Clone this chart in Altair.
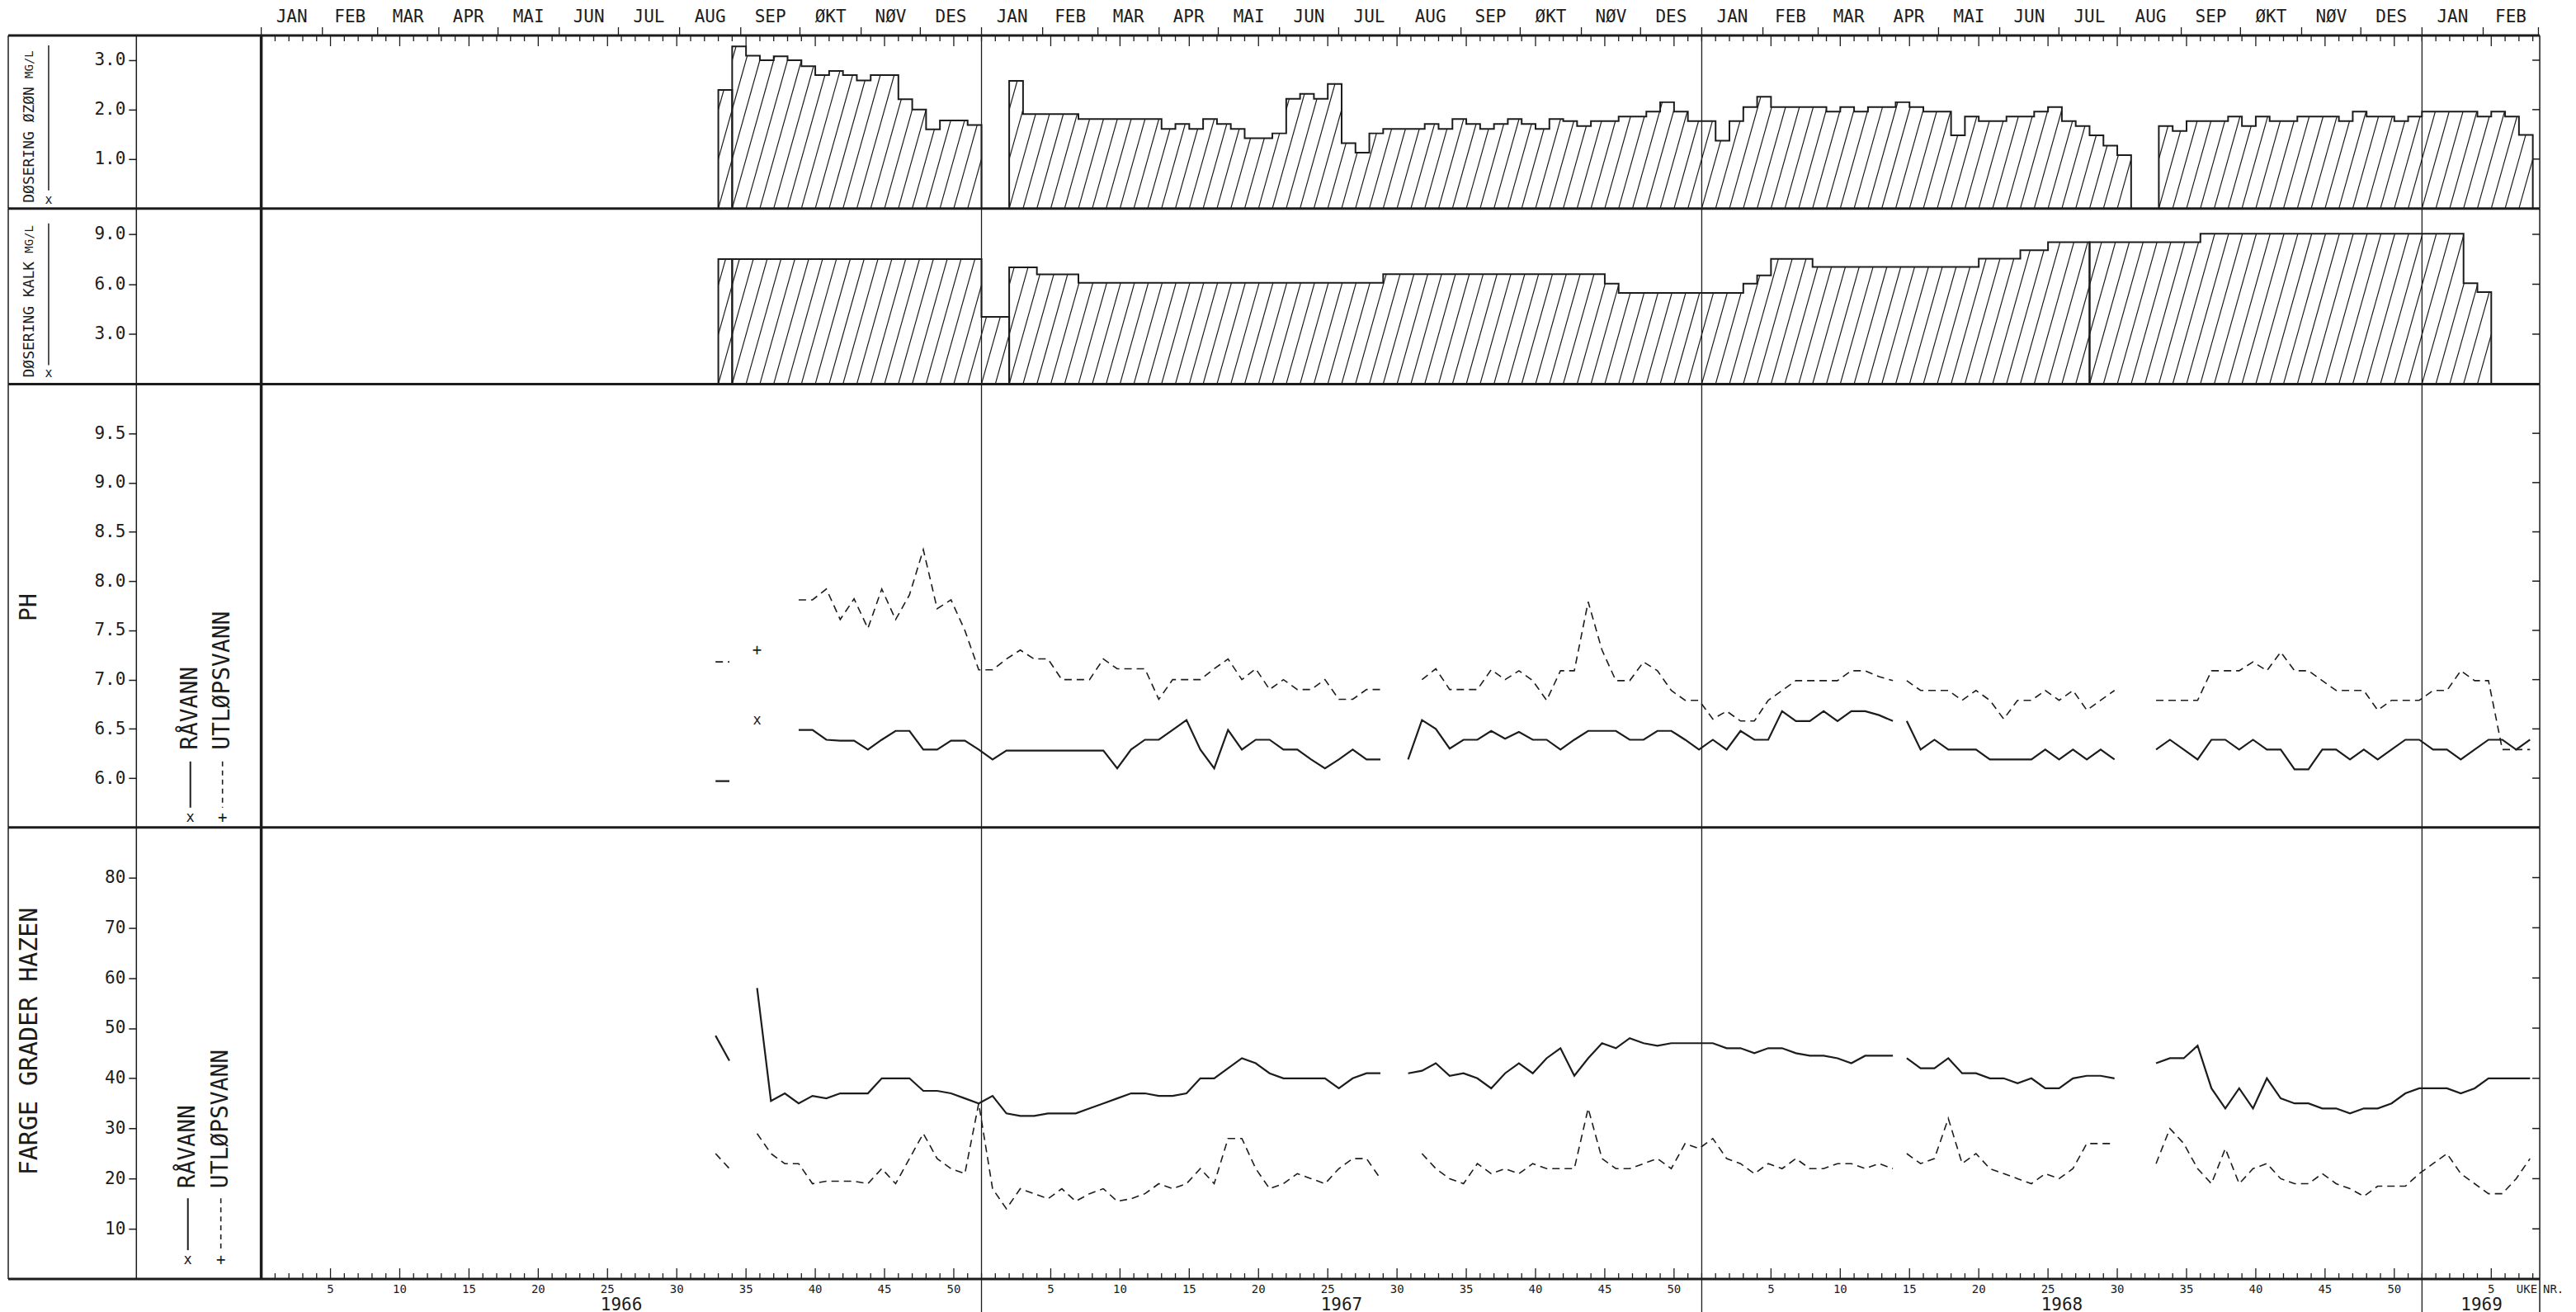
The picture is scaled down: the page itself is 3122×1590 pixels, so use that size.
import altair as alt
import pandas as pd

INK = "#1c1c1c"
MONO = "DejaVu Sans Mono"

# ---------------------------------------------------------------- labels
MONTHS = ["JAN", "FEB", "MAR", "APR", "MAI", "JUN", "JUL", "AUG", "SEP", "ØKT", "NØV", "DES"]
MONTH_START_DAY = [0, 31, 59, 90, 120, 151, 181, 212, 243, 273, 304, 334, 365]
YEARS = ["1966", "1967", "1968", "1969"]
YEAR_LABEL_POS = [26.0, 78.0, 130.0, 160.3]
WEEKS_PER_YEAR = 52
X_MAX = 164.5

OZON_TICKS = [1.0, 2.0, 3.0]
KALK_TICKS = [3.0, 6.0, 9.0]
PH_TICKS = [6.0, 6.5, 7.0, 7.5, 8.0, 8.5, 9.0, 9.5]
FARGE_TICKS = [10, 20, 30, 40, 50, 60, 70, 80]

# ---------------------------------------------------------------- ozone dose mg/l (weekly)
OZON_1966 = [None] * 33 + [2.40, 3.28, 3.09, 3.00, 3.08, 3.00, 2.88, 2.70, 2.78, 2.70,
                           2.59, 2.70, 2.70, 2.21, 2.00, 1.60, 1.78, 1.78, 1.69]
OZON_1967 = [None, None, 2.58, 1.91, 1.91, 1.91, 1.91, 1.81, 1.81, 1.81, 1.81, 1.81, 1.81,
             1.61, 1.71, 1.61, 1.81, 1.71, 1.61, 1.42, 1.42, 1.52, 2.22, 2.32, 2.22, 2.52,
             1.32, 1.13, 1.52, 1.61, 1.61, 1.61, 1.71, 1.61, 1.81, 1.71, 1.61, 1.71, 1.81,
             1.71, 1.61, 1.81, 1.77, 1.67, 1.77, 1.77, 1.86, 1.86, 1.96, 2.15, 1.96, 1.77]
OZON_1968 = [1.77, 1.37, 1.77, 2.05, 2.26, 2.05, 2.05, 2.05, 2.05, 1.96, 2.05, 1.96, 2.05,
             2.05, 2.15, 2.05, 1.96, 1.96, 1.48, 1.86, 1.77, 1.77, 1.86, 1.86, 1.96, 2.05,
             1.77, 1.67, 1.48, 1.27, 1.08, None, None, 1.67, 1.57, 1.77, 1.77, 1.77, 1.86,
             1.67, 1.86, 1.77, 1.77, 1.86, 1.86, 1.86, 1.77, 1.96, 1.86, 1.86, 1.77, 1.86]
OZON_1969 = [1.96, 1.96, 1.96, 1.96, 1.86, 1.96, 1.86, 1.49]
OZON_BREAKS = [35]

# ---------------------------------------------------------------- lime dose mg/l (weekly)
KALK_1966 = [None] * 33 + [7.51, 7.51, 7.51, 7.51, 7.51, 7.51, 7.51, 7.51, 7.51, 7.51,
                           7.51, 7.51, 7.51, 7.51, 7.51, 7.51, 7.51, 7.51, 7.51]
KALK_1967 = [4.04, 4.04, 7.01, 7.01, 6.59, 6.59, 6.59, 6.09, 6.09, 6.09, 6.09, 6.09, 6.09,
             6.09, 6.09, 6.09, 6.09, 6.09, 6.09, 6.09, 6.09, 6.09, 6.09, 6.09, 6.09, 6.09,
             6.09, 6.09, 6.09, 6.60, 6.60, 6.60, 6.60, 6.60, 6.60, 6.60, 6.60, 6.60, 6.60,
             6.60, 6.60, 6.60, 6.60, 6.60, 6.60, 6.03, 5.48, 5.48, 5.48, 5.48, 5.48, 5.48]
KALK_1968 = [5.48, 5.48, 5.48, 6.03, 6.53, 7.52, 7.52, 7.52, 7.04, 7.04, 7.04, 7.04, 7.04,
             7.04, 7.04, 7.04, 7.04, 7.04, 7.04, 7.04, 7.54, 7.54, 7.54, 8.04, 8.04, 8.53,
             8.53, 8.53, 8.53, 8.53, 8.53, 8.53, 8.53, 8.53, 8.53, 8.53, 9.03, 9.03, 9.03,
             9.03, 9.03, 9.03, 9.03, 9.03, 9.03, 9.03, 9.03, 9.03, 9.03, 9.03, 9.03, 9.03]
KALK_1969 = [9.03, 9.03, 9.03, 6.06, 5.53]
KALK_BREAKS = [35, 55, 133]

# ---------------------------------------------------------------- pH (weekly)
PH_RAA_1966 = [None] * 32 + [5.97, 5.97, None, 6.59, None, None, 6.49, 6.49, 6.39, 6.38,
                             6.38, 6.29, 6.39, 6.48, 6.48, 6.29, 6.29, 6.38, 6.38, 6.29]
PH_RAA_1967 = [6.19, 6.28, 6.28, 6.28, 6.28, 6.28, 6.28, 6.28, 6.28, 6.10, 6.29, 6.39, 6.39,
               6.49, 6.59, 6.29, 6.10, 6.49, 6.29, 6.39, 6.39, 6.29, 6.29, 6.19, 6.10, 6.19,
               6.29, 6.19, 6.19, None, 6.19, 6.59, 6.50, 6.30, 6.39, 6.39, 6.48, 6.40, 6.47,
               6.39, 6.39, 6.29, 6.39, 6.48, 6.48, 6.48, 6.39, 6.39, 6.48, 6.48, 6.39, 6.29]
PH_RAA_1968 = [6.39, 6.29, 6.48, 6.39, 6.39, 6.68, 6.58, 6.58, 6.68, 6.58, 6.68, 6.68, 6.64,
               6.58, 6.58, 6.29, 6.39, 6.29, 6.29, 6.29, 6.19, 6.19, 6.19, 6.19, 6.29, 6.19,
               6.29, 6.19, 6.29, 6.19, None, None, 6.29, 6.39, 6.29, 6.19, 6.39, 6.39, 6.29,
               6.39, 6.29, 6.29, 6.09, 6.09, 6.29, 6.29, 6.19, 6.29, 6.19, 6.29, 6.39, 6.39]
PH_RAA_1969 = [6.29, 6.29, 6.19, 6.29, 6.39, 6.39, 6.29, 6.39]

PH_UTL_1966 = [None] * 32 + [7.18, 7.18, None, 7.30, None, None, 7.81, 7.81, 7.92, 7.61,
                             7.82, 7.52, 7.92, 7.61, 7.86, 8.32, 7.72, 7.81, 7.50, 7.10]
PH_UTL_1967 = [7.10, 7.21, 7.30, 7.21, 7.21, 7.00, 7.00, 7.00, 7.21, 7.11, 7.11, 7.11, 6.80,
               7.00, 7.00, 7.00, 7.11, 7.21, 7.00, 7.11, 6.90, 7.00, 6.90, 6.90, 7.00, 6.80,
               6.80, 6.90, 6.90, None, None, 7.00, 7.11, 6.90, 6.90, 6.90, 7.10, 7.00, 7.09,
               6.99, 6.79, 7.09, 7.09, 7.79, 7.30, 6.99, 6.99, 7.18, 7.09, 6.89, 6.79, 6.79]
PH_UTL_1968 = [6.60, 6.68, 6.58, 6.58, 6.79, 6.89, 6.99, 6.99, 6.99, 6.99, 7.09, 7.09, 7.03,
               6.99, 6.99, 6.89, 6.89, 6.89, 6.79, 6.89, 6.79, 6.60, 6.79, 6.79, 6.89, 6.79,
               6.89, 6.69, 6.79, 6.89, None, None, 6.79, 6.79, 6.79, 6.79, 7.09, 7.09, 7.09,
               7.18, 7.09, 7.28, 7.09, 7.09, 6.99, 6.89, 6.89, 6.89, 6.69, 6.79, 6.79, 6.79]
PH_UTL_1969 = [6.89, 6.89, 7.09, 6.99, 6.99, 6.29, 6.29, 6.29]

# ---------------------------------------------------------------- colour, degrees Hazen (weekly)
FARGE_RAA_1966 = [None] * 32 + [48.5, 43.5, None, 58, 35.5, 37, 35, 36.5, 36, 37,
                                37, 37, 40, 40, 40, 37.5, 37.5, 37, 36, 35]
FARGE_RAA_1967 = [36.5, 33, 32.5, 32.5, 33, 33, 33, 34, 35, 36, 37, 37, 36.5, 36.5, 37, 40,
                  40, 42, 44, 43, 41, 40, 40, 40, 40, 38, 40, 41, 41, None, 41, 41.5, 43, 40.5,
                  41, 40, 38, 41, 43, 41, 44, 46, 40.5, 44, 47, 46, 48, 47, 46.5, 47, 47, 47]
FARGE_RAA_1968 = [47, 46, 46, 45, 46, 46, 45, 44.5, 44.5, 44, 43, 44.5, 44.5, 44.5, 44, 42,
                  42, 44, 41, 41, 40, 40, 39, 40, 38, 38, 40, 40.5, 40.5, 40, None, None, 43,
                  44, 44, 46.5, 38, 34, 38, 34, 40, 36, 35, 35, 34, 34, 33, 34, 34, 35, 37, 38]
FARGE_RAA_1969 = [38, 38, 37, 38, 40, 40, 40, 40]

FARGE_UTL_1966 = [None] * 32 + [25, 22, None, 29, 25, 23, 23, 19, 19.5, 19.5,
                                19.5, 19, 22, 19, 24, 29, 24, 22, 21, 35]
FARGE_UTL_1967 = [18, 14, 18, 17, 16, 18, 15.5, 17, 18, 15.5, 16, 17, 19, 18, 19, 22, 19, 28,
                  28, 22, 18, 19, 21, 20, 19, 22, 24, 24, 20, None, None, 25, 22, 20, 19, 23,
                  21, 22, 21, 23, 22, 22, 22, 34, 24, 22, 22, 23, 24, 22, 27, 26]
FARGE_UTL_1968 = [28, 24, 23, 21, 23, 22, 24, 22, 22, 23, 23, 22, 23, 22, 25, 23, 24, 32, 23,
                  25, 22, 21, 20, 19, 21, 20, 22, 27, 27, 27, None, None, 23, 30, 27, 22, 19,
                  26, 19, 22, 23, 20, 19, 19, 21, 19, 18, 16.5, 18.5, 18.5, 18.5, 21]
FARGE_UTL_1969 = [23, 25, 21, 19, 17, 17, 20, 24]

LINE_BREAKS = [119]

# ---------------------------------------------------------------- layout (pixels)
W = 2765
H_OZ, H_KA, H_PH, H_FA = 210, 213, 538, 548
LEFT = -307
AXIS_OFFSET = 152
PX_PER_WEEK = W / X_MAX
POINT_SHIFT = -0.2
ONE = pd.DataFrame({"k": [0]})

xs = alt.Scale(domain=[0, X_MAX], nice=False, zero=False)


def X(field):
    return alt.X(field, type="quantitative", scale=xs, axis=None)


def make_axis(ticks, fmt):
    return alt.Axis(
        values=ticks, format=fmt, offset=AXIS_OFFSET, tickSize=9, tickWidth=1.5,
        tickColor=INK, domainColor=INK, domainWidth=1.5, labelFont=MONO,
        labelFontSize=21, labelColor=INK, labelPadding=4, title=None, grid=False,
        labelFlush=False, labelOverlap=False)


def weekly(*years):
    out = {}
    for yi, lst in enumerate(years):
        for n, v in enumerate(lst, start=1):
            out[WEEKS_PER_YEAR * yi + n] = v
    return out


def dose_frames(vals, breaks, top):
    last = max(vals)
    pts = []
    state = {"seg": -1, "i": 0, "open": False}

    def add(x, v):
        pts.append({"x": x, "v": v, "seg": state["seg"], "i": state["i"]})
        state["i"] += 1

    for g in range(1, last + 1):
        v = vals.get(g)
        if state["open"] and (v is None or g in breaks):
            add(g - 1, 0.0)
            state["open"] = False
        if v is None:
            continue
        if not state["open"]:
            state["seg"] += 1
            state["open"] = True
            add(g - 1, 0.0)
        add(g - 1, v)
    if state["open"]:
        add(last, 0.0)
    mask = [{"x": g - 1, "v": (vals.get(g) or 0.0), "top": top} for g in range(1, last + 1)]
    mask.append({"x": last, "v": 0.0, "top": top})
    mask.append({"x": X_MAX, "v": 0.0, "top": top})
    return pd.DataFrame(pts), pd.DataFrame(mask)


def line_frames(vals, breaks):
    rows, seg, prev = [], -1, None
    for g in range(1, max(vals) + 1):
        v = vals.get(g)
        if v is None:
            prev = None
            continue
        if prev is None or g in breaks:
            seg += 1
        rows.append({"x": g + POINT_SHIFT, "v": v, "seg": seg})
        prev = v
    df = pd.DataFrame(rows)
    size = df.groupby("seg")["seg"].transform("size")
    return df[size > 1], df[size == 1]


def rule_px(x, y, x2=None, y2=None, width=1.5, dash=None):
    enc = {"x": alt.value(x), "y": alt.value(y)}
    if x2 is not None:
        enc["x2"] = alt.value(x2)
    if y2 is not None:
        enc["y2"] = alt.value(y2)
    kw = {"color": INK, "strokeWidth": width}
    if dash:
        kw["strokeDash"] = dash
    return alt.Chart(ONE).mark_rule(**kw).encode(**enc)


def text_px(text, x, y, size, angle=0, align="center"):
    return alt.Chart(ONE).mark_text(
        text=text, font=MONO, fontSize=size, color=INK, angle=angle,
        align=align, baseline="middle").encode(x=alt.value(x), y=alt.value(y))


def frame(H, extra=0, bottom=False):
    yb = pd.DataFrame({"x": [WEEKS_PER_YEAR * i for i in range(1, len(YEARS))]})
    layers = [
        alt.Chart(yb).mark_rule(color=INK, strokeWidth=1.3).encode(
            x=X("x"), y=alt.value(0), y2=alt.value(H + extra)),
        rule_px(LEFT, 0, x2=W, width=3),
        rule_px(LEFT, 0, y2=H, width=1.5),
        rule_px(0, 0, y2=H, width=3.5),
        rule_px(W, 0, y2=H + extra, width=1.5),
    ]
    if bottom:
        layers.append(rule_px(LEFT, H, x2=W, width=3))
    return layers


def right_ticks(ticks, ys, yax):
    return alt.Chart(pd.DataFrame({"v": ticks})).mark_rule(color=INK, strokeWidth=1.5).encode(
        x=alt.value(W - 9), x2=alt.value(W), y=alt.Y("v:Q", scale=ys, axis=yax))


def week_ticks(y0, direction):
    pos = [WEEKS_PER_YEAR * yi + n for yi in range(len(YEARS)) for n in range(1, 53)
           if WEEKS_PER_YEAR * yi + n < X_MAX]
    nn = [p - WEEKS_PER_YEAR * ((p - 1) // WEEKS_PER_YEAR) for p in pos]
    df = pd.DataFrame({"w": pos, "n": nn})
    short = df[df.n % 5 != 0]
    long_ = df[df.n % 5 == 0]
    return [
        alt.Chart(short).mark_rule(color=INK, strokeWidth=1.3).encode(
            x=X("w"), y=alt.value(y0), y2=alt.value(y0 + 7 * direction)),
        alt.Chart(long_).mark_rule(color=INK, strokeWidth=1.3).encode(
            x=X("w"), y=alt.value(y0), y2=alt.value(y0 + 13 * direction)),
    ]


def top_axis():
    rows = []
    for yi in range(len(YEARS)):
        for m, name in enumerate(MONTHS):
            s = WEEKS_PER_YEAR * yi + MONTH_START_DAY[m] * WEEKS_PER_YEAR / 365
            e = WEEKS_PER_YEAR * yi + MONTH_START_DAY[m + 1] * WEEKS_PER_YEAR / 365
            if s >= X_MAX:
                continue
            rows.append({"start": s, "mid": (s + min(e, X_MAX)) / 2, "name": name,
                         "show": (min(e, X_MAX) - s) > 2})
    df = pd.DataFrame(rows)
    return [
        alt.Chart(df).mark_rule(color=INK, strokeWidth=1.3).encode(
            x=X("start"), y=alt.value(0), y2=alt.value(-10)),
        alt.Chart(df[df.show]).mark_text(font=MONO, fontSize=21, color=INK, baseline="middle").encode(
            x=X("mid"), y=alt.value(-22), text="name:N"),
    ] + week_ticks(0, 1)


def bottom_axis(H):
    rows = []
    for yi in range(len(YEARS)):
        for n in range(5, 53, 5):
            p = WEEKS_PER_YEAR * yi + n
            if p < X_MAX - 1:
                rows.append({"w": p, "lab": str(n)})
    wl = pd.DataFrame(rows)
    yl = pd.DataFrame({"w": YEAR_LABEL_POS, "lab": YEARS})
    return week_ticks(H, -1) + [
        alt.Chart(wl).mark_text(font=MONO, fontSize=14, color=INK, baseline="middle").encode(
            x=X("w"), y=alt.value(H + 13), text="lab:N"),
        alt.Chart(yl).mark_text(font=MONO, fontSize=21, color=INK, baseline="middle").encode(
            x=X("w"), y=alt.value(H + 32), text="lab:N"),
        text_px("UKE", W - 3, H + 13, 14, align="right"),
        text_px("NR.", W + 4, H + 13, 14, align="left"),
    ]


def dose_panel(vals, breaks, ymax, ticks, H, title, t_y, unit_y, leg_top, leg_bot, mark_y, extra_layers):
    ys = alt.Scale(domain=[0, ymax], nice=False, zero=False)
    yax = make_axis(ticks, ".1f")
    outline, mask = dose_frames(vals, breaks, ymax)
    dx = 0.28 * H / PX_PER_WEEK
    hatch = alt.Chart(alt.sequence(-6, 166, 1, as_="h")).transform_calculate(
        h2=f"datum.h + {dx}").mark_rule(color=INK, strokeWidth=1.2, clip=True).encode(
        x=X("h"), x2="h2:Q", y=alt.value(H), y2=alt.value(0))
    white = alt.Chart(mask).mark_area(color="white", opacity=1, interpolate="step-after", clip=True).encode(
        x=X("x"), y=alt.Y("v:Q", scale=ys, axis=yax), y2="top:Q")
    line = alt.Chart(outline).mark_line(color=INK, strokeWidth=2, interpolate="step-after", clip=True).encode(
        x=X("x"), y=alt.Y("v:Q", scale=ys, axis=yax), detail="seg:N", order="i:Q")
    layers = [hatch, white, line, right_ticks(ticks, ys, yax)] + frame(H) + extra_layers + [
        text_px(title, -281, t_y, 18, angle=270, align="left"),
        text_px("MG/L", -281, unit_y, 14, angle=270, align="left"),
        rule_px(-258, leg_top, y2=leg_bot, width=1.5),
        text_px("x", -258, mark_y, 15),
    ]
    return alt.layer(*layers).properties(width=W, height=H)


def line_panel(raa, utl, domain, ticks, H, fmt, title, title_y, title_size, title_align,
               leg_text_y, leg_top, leg_bot, mark_y, xs_cols, extra, extra_layers):
    ys = alt.Scale(domain=domain, nice=False, zero=False)
    yax = make_axis(ticks, fmt)
    raa_l, raa_p = line_frames(raa, LINE_BREAKS)
    utl_l, utl_p = line_frames(utl, LINE_BREAKS)
    layers = [
        alt.Chart(raa_l).mark_line(color=INK, strokeWidth=2.2, clip=True).encode(
            x=X("x"), y=alt.Y("v:Q", scale=ys, axis=yax), detail="seg:N"),
        alt.Chart(utl_l).mark_line(color=INK, strokeWidth=1.6, strokeDash=[9, 6], clip=True).encode(
            x=X("x"), y=alt.Y("v:Q", scale=ys, axis=yax), detail="seg:N"),
    ]
    if len(raa_p):
        layers.append(alt.Chart(raa_p).mark_text(text="x", font=MONO, fontSize=17, color=INK).encode(
            x=X("x"), y=alt.Y("v:Q", scale=ys, axis=yax)))
    if len(utl_p):
        layers.append(alt.Chart(utl_p).mark_text(text="+", font=MONO, fontSize=19, color=INK).encode(
            x=X("x"), y=alt.Y("v:Q", scale=ys, axis=yax)))
    c1, c2 = xs_cols
    layers += [right_ticks(ticks, ys, yax)] + frame(H, extra=extra, bottom=extra > 0) + extra_layers + [
        text_px(title, -281, title_y, title_size, angle=270, align=title_align),
        text_px("x", c1, mark_y, 17),
        rule_px(c1, leg_top, y2=leg_bot, width=2),
        text_px("RÅVANN", c1, leg_text_y, 28, angle=270, align="left"),
        text_px("+", c2, mark_y, 19),
        rule_px(c2, leg_top, y2=leg_bot, width=1.6, dash=[6, 5]),
        text_px("UTLØPSVANN", c2, leg_text_y, 28, angle=270, align="left"),
    ]
    return alt.layer(*layers).properties(width=W, height=H)


ozon = weekly(OZON_1966, OZON_1967, OZON_1968, OZON_1969)
kalk = weekly(KALK_1966, KALK_1967, KALK_1968, KALK_1969)
ph_raa = weekly(PH_RAA_1966, PH_RAA_1967, PH_RAA_1968, PH_RAA_1969)
ph_utl = weekly(PH_UTL_1966, PH_UTL_1967, PH_UTL_1968, PH_UTL_1969)
fa_raa = weekly(FARGE_RAA_1966, FARGE_RAA_1967, FARGE_RAA_1968, FARGE_RAA_1969)
fa_utl = weekly(FARGE_UTL_1966, FARGE_UTL_1967, FARGE_UTL_1968, FARGE_UTL_1969)

p_oz = dose_panel(ozon, OZON_BREAKS, 3.5, OZON_TICKS, H_OZ, "DØSERING ØZØN",
                  203, 52, 12, 188, 199, top_axis())
p_ka = dose_panel(kalk, KALK_BREAKS, 10.55, KALK_TICKS, H_KA, "DØSERING KALK",
                  205, 54, 18, 190, 200, [])
p_ph = line_panel(ph_raa, ph_utl, [5.5, 10.0], PH_TICKS, H_PH, ".1f", "PH", 271, 28, "center",
                  444, 458, 514, 526, (-86, -47), 0, [])
p_fa = line_panel(fa_raa, fa_utl, [0, 90], FARGE_TICKS, H_FA, "d", "FARGE GRADER HAZEN", 422, 30, "left",
                  438, 450, 513, 525, (-89, -49), 45, bottom_axis(H_FA))

chart = alt.vconcat(p_oz, p_ka, p_ph, p_fa, spacing=0, bounds="flush").properties(
    padding={"left": 0, "top": 0, "right": 6, "bottom": 0}
).configure_view(stroke=None).configure(background="white")

chart.save("out.html", embed_options={"renderer": "svg", "actions": False})
